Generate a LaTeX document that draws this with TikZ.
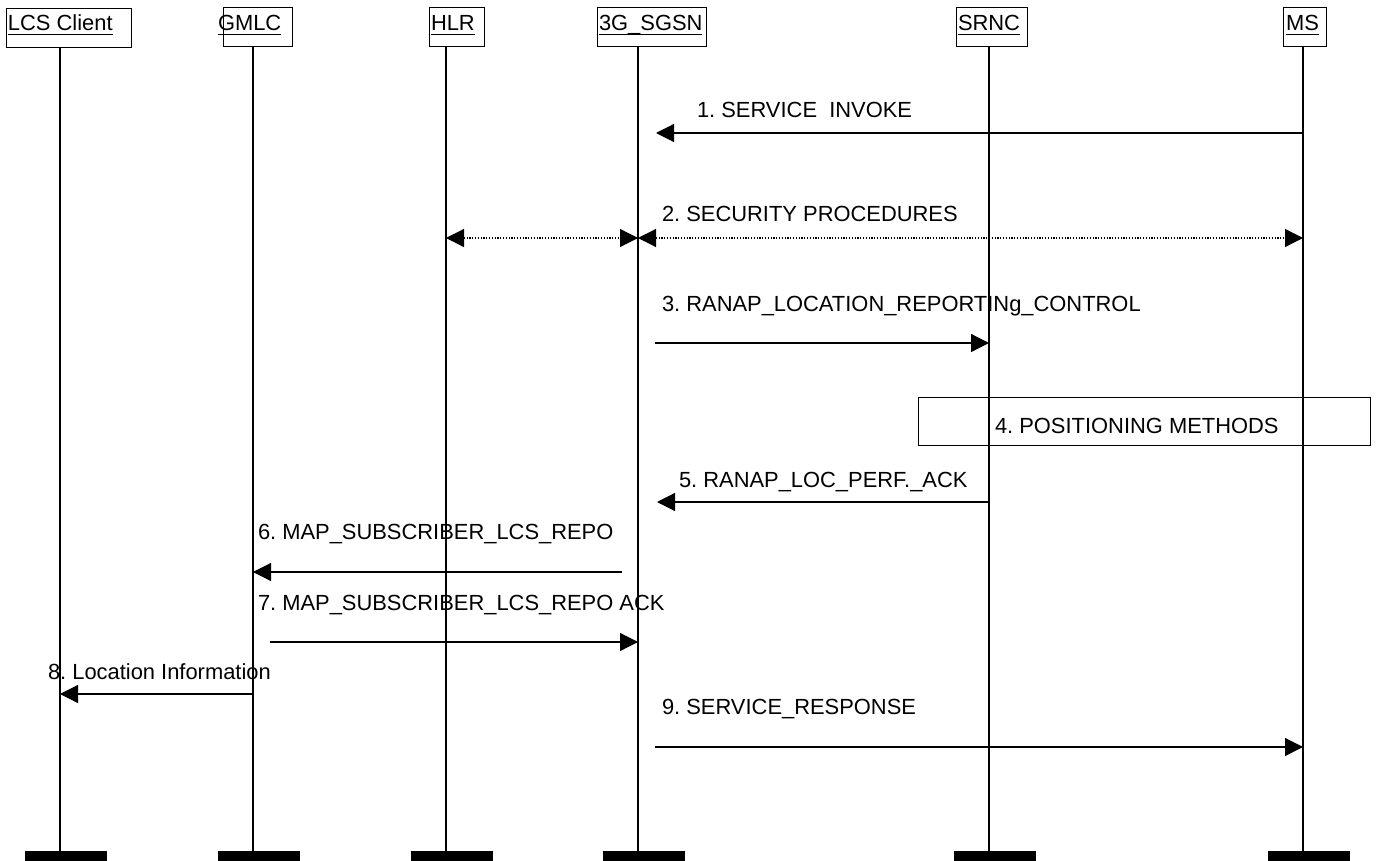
\documentclass[tikz,border=0pt]{standalone}
\usepackage{fontspec}
\setmainfont{Liberation Sans}
\usetikzlibrary{arrows.meta}
\frenchspacing
\begin{document}
\begin{tikzpicture}[x=1pt,y=-1pt,
  every node/.style={inner sep=0pt, outer sep=0pt, font=\fontsize{21.9}{24}\selectfont},
  hdrbox/.style={draw, line width=1pt, anchor=north west, minimum height=39pt},
  lbl/.style={anchor=base west},
  uline/.style={line width=1.6pt},
  life/.style={line width=1.3pt},
  msg/.style={line width=1.2pt, -{Triangle[length=18pt,width=18pt]}},
  dmsg/.style={line width=1.2pt, dash pattern=on 1.2pt off 1.6pt,
    {Triangle[length=18pt,width=18pt]}-{Triangle[length=18pt,width=18pt]}},
  endbar/.style={fill=black, anchor=north west, minimum width=82pt, minimum height=10pt},
  posbox/.style={draw, line width=1pt, anchor=north west, minimum width=452pt, minimum height=48pt},
]
\useasboundingbox (0,0) rectangle (1378,861);

% header boxes
\node[hdrbox, minimum width=125pt] (lcsbox) at (6,9) {};
\node[hdrbox, minimum width=69pt]  (gmlcbox) at (223,8) {};
\node[hdrbox, minimum width=55pt]  (hlrbox) at (429,8) {};
\node[hdrbox, minimum width=109pt] (sgsnbox) at (597,8) {};
\node[hdrbox, minimum width=71pt]  (srncbox) at (956,8) {};
\node[hdrbox, minimum width=43pt]  (msbox) at (1283,8) {};

% header texts
\node[lbl] (lcst) at (8,31) {LCS Client};
\node[lbl] (gmlct) at (218,31) {GMLC};
\node[lbl] (hlrt) at (431,31) {HLR};
\node[lbl] (sgsnt) at (599,31) {3G\_SGSN};
\node[lbl] (srnct) at (958,31) {SRNC};
\node[lbl] (mst) at (1286,31) {MS};
\foreach \t in {lcst,gmlct,hlrt,sgsnt,srnct,mst}
  \draw[uline] ([yshift=-3.5pt]\t.base west) -- ([yshift=-3.5pt]\t.base east);

% lifeline ends
\coordinate (lcsB) at (60,851);
\coordinate (gmlcB) at (253,851);
\coordinate (hlrB) at (446,851);
\coordinate (sgsnB) at (638,851);
\coordinate (srncB) at (989,851);
\coordinate (msB) at (1303,851);

\draw[life] (lcsbox.south -| lcsB) -- (lcsB);
\draw[life] (gmlcbox.south -| gmlcB) -- (gmlcB);
\draw[life] (hlrbox.south -| hlrB) -- (hlrB);
\draw[life] (sgsnbox.south -| sgsnB) -- (sgsnB);
\draw[life] (srncbox.south -| srncB) -- (srncB);
\draw[life] (msbox.south -| msB) -- (msB);

% end bars
\node[endbar] (lcsbar) at (25,851) {};
\node[endbar] (gmlcbar) at (218,851) {};
\node[endbar] (hlrbar) at (411,851) {};
\node[endbar] (sgsnbar) at (603,851) {};
\node[endbar] (srncbar) at (954,851) {};
\node[endbar] (msbar) at (1268,851) {};

% 1
\node[lbl] (l1) at (697,118) {1. SERVICE\ \ INVOKE};
\coordinate (m1a) at (1303,133); \coordinate (m1b) at (656,133);
\draw[msg] (m1a) -- (m1b);

% 2
\node[lbl] (l2) at (662,222) {2. SECURITY PROCEDURES};
\coordinate (m2a) at (446,238); \coordinate (m2b) at (638,238); \coordinate (m2c) at (1303,238);
\draw[dmsg] (m2a) -- (m2b);
\draw[dmsg] (m2b) -- (m2c);

% 3
\node[lbl] (l3) at (662,311) {3. RANAP\_LOCATION\_REPORTINg\_CONTROL};
\coordinate (m3a) at (655,343); \coordinate (m3b) at (989,343);
\draw[msg] (m3a) -- (m3b);

% 4
\node[posbox] (pos) at (918,397) {};
\node[lbl] (l4) at (995,433) {4. POSITIONING METHODS};

% 5
\node[lbl] (l5) at (679,487) {5. RANAP\_LOC\_PERF.\_ACK};
\coordinate (m5a) at (989,502); \coordinate (m5b) at (657,502);
\draw[msg] (m5a) -- (m5b);

% 6
\node[lbl] (l6) at (258,539) {6. MAP\_SUBSCRIBER\_LCS\_REPO};
\coordinate (m6a) at (622,572); \coordinate (m6b) at (253,572);
\draw[msg] (m6a) -- (m6b);

% 7
\node[lbl] (l7) at (258,610) {7. MAP\_SUBSCRIBER\_LCS\_REPO ACK};
\coordinate (m7a) at (270,642); \coordinate (m7b) at (638,642);
\draw[msg] (m7a) -- (m7b);

% 8
\node[lbl] (l8) at (48,679) {8. Location Information};
\coordinate (m8a) at (253,694); \coordinate (m8b) at (60,694);
\draw[msg] (m8a) -- (m8b);

% 9
\node[lbl] (l9) at (662,714) {9. SERVICE\_RESPONSE};
\coordinate (m9a) at (655,747); \coordinate (m9b) at (1303,747);
\draw[msg] (m9a) -- (m9b);
\end{tikzpicture}
\end{document}
